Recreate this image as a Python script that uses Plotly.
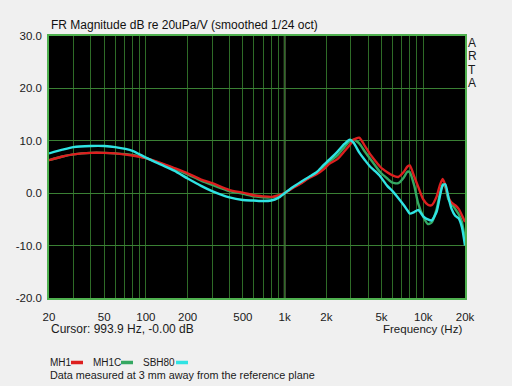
import plotly.graph_objects as go

# ---------------- data ----------------
freq_hz = [20, 25, 30, 40, 50, 60, 80, 100, 130, 160, 200, 250, 300, 400, 500, 600, 700, 800, 900,
           1000, 1150, 1300, 1500, 1700, 1900, 2100, 2400, 2700, 2950, 3150, 3450, 3800, 4100, 4500,
           4900, 5500, 6000, 6600, 7200, 7700, 8000, 8600, 9200, 10000, 10800, 11500, 12500, 13200,
           13800, 14400, 15200, 16000, 17000, 18000, 19000, 20000]

mh1_db = [6.3, 7.0, 7.4, 7.7, 7.7, 7.6, 7.2, 6.7, 5.7, 4.8, 3.8, 2.6, 1.9, 0.6, 0.1, -0.4, -0.6, -0.7, -0.4,
          0.0, 1.0, 1.8, 2.9, 3.6, 4.5, 5.6, 6.5, 8.0, 9.2, 10.2, 10.6, 9.0, 7.6, 6.2,
          5.0, 4.0, 3.4, 3.1, 4.0, 5.1, 5.3, 3.2, 1.2, -1.2, -2.2, -2.3, -0.6, 1.6,
          2.7, 1.6, -0.8, -1.8, -2.3, -3.0, -4.2, -5.5]

mh1c_db = [6.3, 7.0, 7.4, 7.7, 7.7, 7.6, 7.3, 6.7, 5.6, 4.7, 3.6, 2.4, 1.6, 0.4, -0.1, -0.6, -0.8, -0.8, -0.5,
           0.0, 1.1, 1.9, 3.0, 3.8, 4.9, 6.0, 7.2, 8.8, 9.9, 10.2, 9.5, 7.9, 6.7, 5.3,
           4.0, 2.8, 2.0, 1.9, 2.9, 4.1, 4.0, 1.5, -2.0, -4.5, -5.9, -5.6, -3.0, 0.0,
           1.7, 1.2, -1.2, -2.0, -3.0, -4.0, -5.5, -9.0]

sbh80_db = [7.6, 8.3, 8.8, 9.0, 9.0, 8.8, 8.1, 6.8, 5.4, 4.3, 2.8, 1.4, 0.4, -0.8, -1.3, -1.4, -1.5, -1.4, -0.9,
            0.0, 1.2, 2.1, 3.1, 4.0, 5.3, 6.4, 7.9, 9.4, 10.2, 9.6, 7.8, 6.3, 5.2, 4.2,
            3.2, 1.4, 0.4, -0.9, -2.2, -3.3, -3.9, -3.6, -3.2, -4.4, -5.0, -5.2, -3.5, -0.5,
            1.5, 1.7, -0.8, -3.0, -4.3, -4.8, -6.5, -10.0]

series_names = ["MH1", "MH1C", "SBH80"]
series_colors = ["#dd1f1f", "#34a862", "#2fe3e3"]

grid_freqs = [20, 30, 40, 50, 60, 70, 80, 90, 100, 200, 300, 400, 500, 600, 700, 800, 900,
              1000, 2000, 3000, 4000, 5000, 6000, 7000, 8000, 9000, 10000, 20000]
labelled = {20: "20", 50: "50", 100: "100", 200: "200", 500: "500", 1000: "1k",
            2000: "2k", 5000: "5k", 10000: "10k", 20000: "20k"}
y_ticks = [-20, -10, 0, 10, 20, 30]
y_labels = ["-20.0", "-10.0", "0.0", "10.0", "20.0", "30.0"]

title_text = "FR Magnitude dB re 20uPa/V (smoothed 1/24 oct)"
cursor_text = "Cursor: 993.9 Hz, -0.00 dB"
xaxis_text = "Frequency (Hz)"
note_text = "Data measured at 3 mm away from the reference plane"
side_letters = ["A", "R", "T", "A"]

# ---------------- figure ----------------
W, H = 512, 386
L, R, T, B = 49, 47, 36, 88
pw, ph = W - L - R, H - T - B


def px(x):
    return (x - L) / pw


def py(y):
    return (H - B - y) / ph


FONT = "Liberation Sans, Arial, sans-serif"
fig = go.Figure()

order = [1, 0, 2]  # draw green under red, cyan on top
values = [mh1_db, mh1c_db, sbh80_db]
for i in order:
    fig.add_trace(go.Scatter(x=freq_hz, y=values[i], mode="lines", name=series_names[i],
                             line=dict(color=series_colors[i], width=2.4, shape="spline", smoothing=0.6),
                             showlegend=False))

fig.update_layout(
    width=W, height=H, autosize=False,
    margin=dict(l=L, r=R, t=T, b=B, pad=0),
    paper_bgcolor="#f0f0f0", plot_bgcolor="#000000",
    font=dict(family=FONT, size=11, color="#1a1a1a"),
    showlegend=False,
)
fig.update_xaxes(
    type="log", range=[1.30103, 4.30103],
    tickmode="array", tickvals=grid_freqs,
    ticktext=[labelled.get(f, "") for f in grid_freqs],
    showgrid=True, gridcolor="#2e6b27", gridwidth=1,
    zeroline=False, showline=True, linecolor="#4fb04f", linewidth=1.5, mirror=True,
    ticks="", ticklabelstandoff=7, tickfont=dict(size=11.5, color="#1a1a1a"),
)
fig.update_yaxes(
    range=[-20, 30], tickmode="array", tickvals=y_ticks, ticktext=y_labels,
    showgrid=True, gridcolor="#3a8034", gridwidth=1,
    zeroline=False, showline=True, linecolor="#4fb04f", linewidth=1.5, mirror=True,
    ticks="", ticklabelstandoff=3, tickfont=dict(size=11.5, color="#1a1a1a"),
)

# brighter 1 kHz reference grid line
fig.add_shape(type="line", xref="x", yref="paper", x0=1000, x1=1000, y0=0, y1=1,
              line=dict(color="#a9cf8a", width=1.5), layer="below")

ann = []
ann.append(dict(text=title_text, x=px(49), y=py(25), xanchor="left", yanchor="middle",
                font=dict(size=12, color="#111")))
ann.append(dict(text=cursor_text, x=px(49), y=py(329), xanchor="left", yanchor="middle",
                font=dict(size=12)))
ann.append(dict(text=xaxis_text, x=px(464), y=py(329), xanchor="right", yanchor="middle",
                font=dict(size=11.5)))
ann.append(dict(text=note_text, x=px(48), y=py(375), xanchor="left", yanchor="middle",
                font=dict(size=10.8)))
for k, letter in enumerate(side_letters):
    ann.append(dict(text=letter, x=px(472), y=py(43 + 13.3 * k), xanchor="center", yanchor="middle",
                    font=dict(size=12)))

legend_text_x = [48, 91, 141]
swatch_x = [(71, 83), (121, 133), (176, 188)]
for i in range(3):
    ann.append(dict(text=series_names[i], x=px(legend_text_x[i]), y=py(362), xanchor="left",
                    yanchor="middle", font=dict(size=10)))
    fig.add_shape(type="line", xref="paper", yref="paper",
                  x0=px(swatch_x[i][0]), x1=px(swatch_x[i][1]), y0=py(362.5), y1=py(362.5),
                  line=dict(color=series_colors[i], width=3.5))

for a in ann:
    a.update(xref="paper", yref="paper", showarrow=False)
    fig.add_annotation(**a)

fig.write_html("out.html", config={"displayModeBar": False},
               post_script="document.body.style.margin='0';document.body.style.background='#f0f0f0';")
